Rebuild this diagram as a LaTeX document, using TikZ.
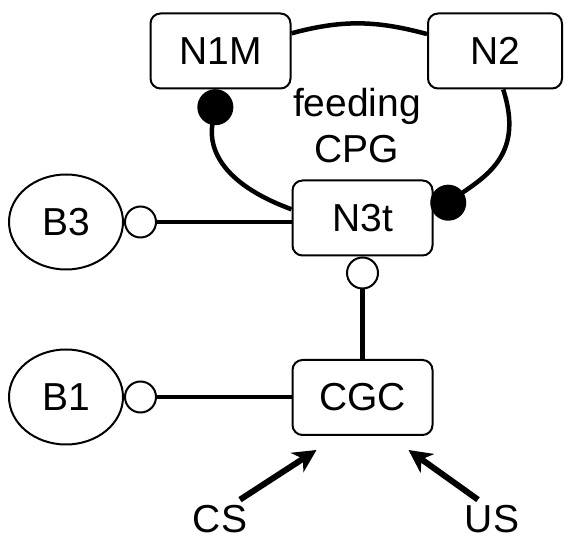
\documentclass[tikz,border=0pt]{standalone}
\usepackage{fontspec}
\setmainfont{Liberation Sans}
\usetikzlibrary{arrows.meta,shapes.geometric}
\tikzset{
	neuron/.style={draw, line width=2pt, rounded corners=10pt, minimum width=140pt, minimum height=75pt, inner sep=0pt},
	cell/.style={draw, ellipse, line width=2pt, minimum width=114pt, minimum height=95pt, inner sep=0pt},
	link/.style={line width=4.5pt},
	inhib/.style={link, -{Circle[length=36pt]}},
	excit/.style={link, -{Circle[length=33pt, fill=white, line width=2pt 0]}},
	stim/.style={line width=6pt, -{Stealth[length=23pt, width=23pt, inset=7pt]}}
}

\begin{document}
\begin{tikzpicture}[x=1pt, y=1pt, font=\fontsize{39}{46}\selectfont]
	\useasboundingbox (0,0) rectangle (564,540);
	\node[neuron] (N1M) at (220.5,489) {N1M};
	\node[neuron, minimum width=134pt] (N2) at (495,489) {N2};
	\node[neuron] (N3t) at (362.5,322) {N3t};
	\node[neuron] (CGC) at (362.5,142.5) {CGC};
	\node[cell] (B3) at (66,318) {B3};
	\node[cell] (B1) at (66,143) {B1};
	\node[align=center] (CPG) at (357,414) {feeding\\CPG};
	\node (CS) at (220,21) {CS};
	\node (US) at (492,21) {US};
	\coordinate (cstip) at ([xshift=-46pt,yshift=-14pt]CGC.south);
	\coordinate (ustip) at ([xshift=46pt,yshift=-14pt]CGC.south);
	\draw[link] (N1M.14) to[out=15, in=165] (N2.166);
	\draw[inhib] (N2.-78) to[out=-72, in=35, looseness=1.2] (N3t.4);
	\draw[inhib] (N3t.173) to[out=160, in=-100, looseness=1.2] (N1M.-93);
	\draw[excit] (N3t.west |- B3.east) -- (B3.east);
	\draw[excit] (CGC.west |- B1.east) -- (B1.east);
	\draw[excit] (CGC) -- (N3t);
	\draw[stim] ([xshift=20pt,yshift=2pt]CS.north) -- (cstip);
	\draw[stim] ([xshift=-14pt,yshift=2pt]US.north) -- (ustip);
\end{tikzpicture}
\end{document}
